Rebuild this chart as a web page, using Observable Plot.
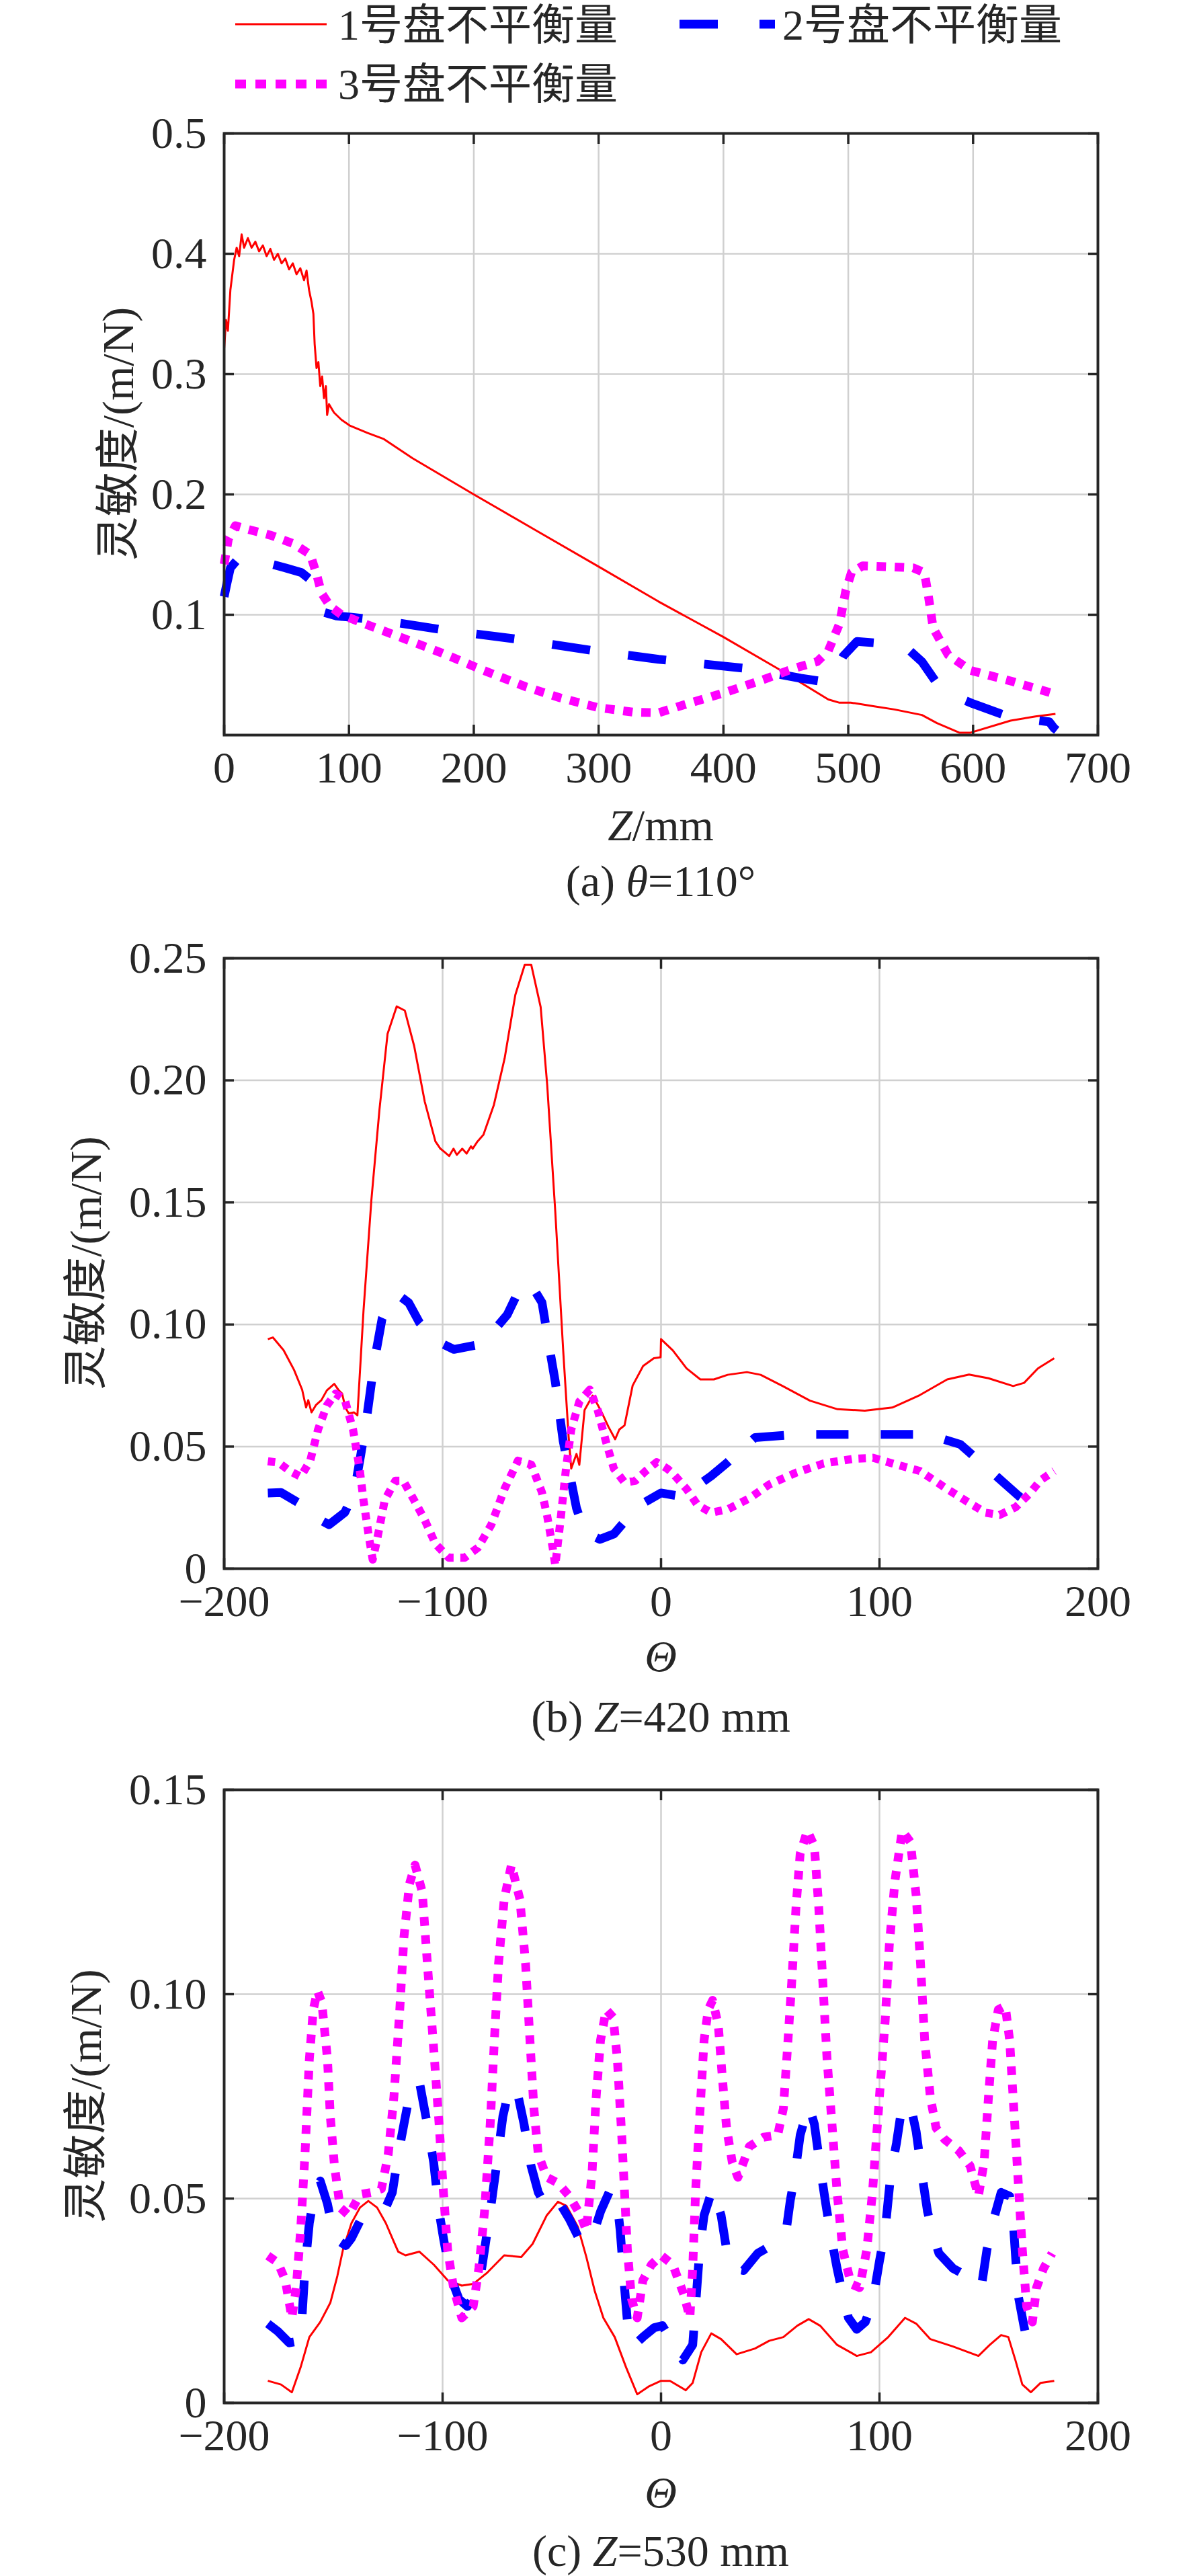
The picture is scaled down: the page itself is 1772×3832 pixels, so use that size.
<!DOCTYPE html>
<html><head><meta charset="utf-8">
<script src="https://cdn.jsdelivr.net/npm/d3@7"></script>
<script src="https://cdn.jsdelivr.net/npm/@observablehq/plot@0.6"></script>
<style>
body{margin:0;background:#fff;}
#root{position:relative;width:1772px;height:3832px;background:#fff;overflow:hidden;}
#root svg{position:absolute;left:0;}
</style></head><body><div id="root"></div>
<script>
const seriesNames = ["1号盘不平衡量","2号盘不平衡量","3号盘不平衡量"];
const seriesColors = ["#ff0000","#0000ff","#ff00ff"];

// ---- Panel (a): theta = 110 deg, x = Z/mm ----
const aRed = [[0,0.321],[1.5,0.345],[3,0.336],[5,0.37],[8,0.395],[10,0.405],[12,0.398],[14,0.416],[16,0.405],[19,0.413],[22,0.405],[25,0.41],[28,0.402],[31,0.407],[34,0.398],[37,0.404],[40,0.395],[43,0.4],[46,0.392],[49,0.396],[52,0.387],[55,0.392],[58,0.383],[61,0.388],[64,0.378],[66,0.386],[68,0.37],[70,0.36],[71.5,0.35],[72.5,0.325],[74,0.305],[75.5,0.31],[77,0.29],[78.5,0.298],[80,0.28],[81.5,0.29],[82.5,0.266],[84,0.275],[88,0.268],[94,0.262],[101,0.257],[115,0.251],[128,0.246],[151,0.23],[200,0.2],[250,0.17],[300,0.14],[348,0.111],[400,0.0815],[443,0.0556],[484,0.0296],[493,0.0269],[502,0.027],[520,0.024],[537,0.0213],[559,0.0167],[571,0.01],[589,0.002],[598,0.002],[630,0.012],[650,0.0155],[666,0.0176]];
const aBlue = [[0,0.115],[2,0.125],[5,0.139],[10,0.145],[17,0.146],[26,0.145],[38,0.142],[49,0.139],[62,0.135],[68,0.13],[72,0.122],[76,0.108],[80,0.102],[90,0.099],[101,0.098],[128,0.095],[174,0.0877],[235,0.0797],[297,0.07],[348,0.063],[416,0.0556],[432,0.053],[462,0.0472],[480,0.0444],[486,0.0463],[489,0.052],[496,0.0657],[507,0.0778],[530,0.076],[548,0.0713],[559,0.061],[575,0.037],[600,0.026],[630,0.0148],[661,0.011],[665,0.0056],[667,0.004]];
const aMag = [[0,0.142],[3.4,0.163],[9,0.174],[19,0.171],[37.5,0.166],[55.7,0.159],[69,0.15],[74,0.134],[78,0.118],[85,0.107],[94,0.1],[112.5,0.0925],[140,0.0818],[174,0.0684],[208,0.0537],[242,0.04],[269,0.031],[299,0.023],[328,0.019],[348,0.0185],[371,0.026],[400,0.035],[430,0.0454],[457,0.0556],[475,0.061],[484,0.07],[493,0.0926],[498,0.12],[502.5,0.135],[511.6,0.1407],[530,0.14],[552,0.139],[561,0.135],[564,0.117],[568,0.089],[580,0.0667],[598,0.0537],[632,0.0444],[668,0.0333]];
const aXTicks = [0,100,200,300,400,500,600,700];
const aYTicks = [0.1,0.2,0.3,0.4,0.5];

// ---- Panel (b): Z = 420 mm, x = Theta ----
const bRed = [[-180,0.094],[-177.7,0.0947],[-172.8,0.0895],[-168,0.0814],[-164.3,0.0733],[-162.5,0.066],[-161.5,0.069],[-160,0.064],[-158,0.067],[-155.5,0.069],[-153,0.073],[-149.6,0.0757],[-147.5,0.073],[-146,0.0717],[-144.5,0.066],[-143,0.0636],[-140.5,0.064],[-139,0.0628],[-136.2,0.1057],[-132.6,0.151],[-128.9,0.188],[-125.2,0.219],[-121,0.2303],[-117.3,0.2286],[-113,0.214],[-108.2,0.1914],[-103.3,0.175],[-101,0.172],[-99.6,0.171],[-97,0.169],[-95,0.172],[-93.5,0.1695],[-91,0.172],[-89,0.17],[-87,0.173],[-86.2,0.172],[-84,0.175],[-81.3,0.1777],[-76.5,0.19],[-71.6,0.209],[-66.7,0.235],[-62.4,0.2473],[-59.4,0.2473],[-55.1,0.23],[-52.1,0.198],[-48.4,0.146],[-44.8,0.0895],[-42.3,0.054],[-41.1,0.041],[-38.7,0.047],[-37.4,0.0425],[-35,0.065],[-31.3,0.0709],[-27.7,0.065],[-24,0.058],[-21,0.053],[-19.1,0.057],[-16.7,0.0587],[-13,0.075],[-8.2,0.083],[-3.3,0.0862],[-0.2,0.0866],[0,0.094],[5.4,0.0894],[11.7,0.082],[18,0.0775],[24.2,0.0775],[30.5,0.0794],[39.3,0.0805],[45.6,0.0794],[55.7,0.0748],[68.2,0.0688],[80.8,0.0653],[93.3,0.0647],[105.9,0.066],[118.5,0.0711],[131,0.0775],[141,0.0795],[149.9,0.078],[161.2,0.0748],[166.2,0.0761],[172.5,0.082],[180,0.0862]];
const bBlue = [[-180,0.031],[-174,0.0312],[-166,0.027],[-160,0.022],[-152,0.018],[-144.8,0.023],[-140.5,0.031],[-137.4,0.047],[-135,0.06],[-131.3,0.0846],[-127.7,0.1024],[-124,0.1097],[-119.8,0.1118],[-115.5,0.1089],[-110.6,0.1008],[-103.3,0.0935],[-94.8,0.0898],[-82.6,0.0919],[-76.5,0.0976],[-70.4,0.104],[-64.3,0.1154],[-59.4,0.1162],[-54.5,0.109],[-50.9,0.0895],[-48.4,0.0765],[-44.8,0.0523],[-42.3,0.041],[-38.7,0.0248],[-35,0.015],[-28,0.012],[-21.6,0.0142],[-10.6,0.0256],[0,0.031],[7.9,0.0298],[16,0.0335],[23,0.038],[30.5,0.0436],[43,0.0537],[62,0.055],[99.6,0.055],[122,0.055],[137,0.0509],[151,0.0399],[163.7,0.0298],[168,0.027]];
const bMag = [[-180,0.044],[-175,0.0434],[-170,0.04],[-165,0.0377],[-160.6,0.0442],[-157,0.057],[-153,0.0668],[-149,0.0717],[-144.8,0.0693],[-141,0.057],[-138,0.041],[-136.2,0.028],[-133.8,0.0134],[-132,0.0037],[-130,0.0118],[-126.5,0.028],[-121.6,0.036],[-118,0.036],[-113,0.028],[-108.2,0.02],[-103.3,0.0102],[-97.2,0.0045],[-89.9,0.0045],[-83.8,0.0086],[-77.7,0.018],[-71.6,0.0328],[-65.5,0.0442],[-59.4,0.0426],[-54.5,0.0312],[-52.1,0.0215],[-49.6,0.0086],[-48.4,0.0013],[-46,0.02],[-43.5,0.041],[-41.1,0.057],[-37.4,0.0684],[-32.6,0.0733],[-29,0.065],[-25.2,0.052],[-21.6,0.041],[-16.7,0.0353],[-11.8,0.036],[-7,0.04],[-2,0.0436],[2.8,0.041],[5.4,0.039],[11.7,0.0326],[16.7,0.0261],[23,0.0229],[30.5,0.0243],[40.6,0.0289],[49.4,0.0344],[62,0.0394],[74.5,0.0431],[88.3,0.045],[97,0.0454],[105.9,0.0431],[118.5,0.04],[131,0.0326],[141,0.027],[148.6,0.0229],[155,0.022],[162.4,0.0252],[168.7,0.0307],[173.7,0.0362],[180,0.04]];
const bXTicks = [-200,-100,0,100,200];
const bYTicks = [0,0.05,0.1,0.15,0.2,0.25];

// ---- Panel (c): Z = 530 mm, x = Theta ----
const cRed = [[-180,0.0054],[-174,0.0045],[-169,0.0026],[-165,0.0087],[-161,0.0161],[-156,0.0198],[-151.4,0.0245],[-148.2,0.031],[-145.6,0.0375],[-141.7,0.044],[-137.8,0.0478],[-134,0.0494],[-130,0.0478],[-126,0.044],[-122.3,0.0394],[-120.3,0.037],[-117,0.0361],[-110.6,0.037],[-104,0.0338],[-97.7,0.03],[-91.2,0.0287],[-86,0.0291],[-79.5,0.0319],[-71.8,0.0361],[-64,0.0357],[-58.8,0.0389],[-52.3,0.0459],[-47.2,0.0492],[-43.3,0.0482],[-38.1,0.0431],[-34.2,0.0357],[-30.3,0.0273],[-26.4,0.0208],[-21.2,0.0161],[-16,0.0087],[-10.9,0.0021],[-5.7,0.004],[0,0.0054],[4.1,0.0054],[11.3,0.0031],[14.5,0.0049],[18.4,0.0124],[23,0.017],[27.5,0.0156],[34.6,0.0119],[43,0.0133],[49.5,0.0152],[56,0.0161],[62.4,0.0189],[67.6,0.0205],[72.8,0.0189],[80.6,0.0142],[89.6,0.0115],[96.1,0.0124],[104,0.0161],[111.7,0.0208],[116.8,0.0194],[123.3,0.0156],[133.7,0.0138],[145.3,0.0115],[150.5,0.0142],[155.7,0.0166],[159,0.0161],[162.2,0.0105],[165.4,0.0045],[169.3,0.0026],[173.8,0.0049],[180,0.0054]];
const cBlue = [[-180,0.0194],[-175.4,0.0175],[-170.2,0.0147],[-165,0.0152],[-163,0.0329],[-161,0.044],[-158.5,0.0515],[-156,0.0543],[-152.7,0.0487],[-149.5,0.0403],[-144.3,0.0385],[-141.7,0.0403],[-136.5,0.0459],[-130,0.0468],[-126,0.0478],[-123,0.0515],[-120.3,0.0608],[-117.7,0.0682],[-114.5,0.0771],[-110.6,0.0785],[-106.7,0.0673],[-104.1,0.0589],[-101.6,0.0468],[-99.6,0.0403],[-96.4,0.031],[-92.5,0.0254],[-88.6,0.0236],[-83.4,0.0282],[-80.8,0.0375],[-78.2,0.0468],[-75.6,0.057],[-72.4,0.0701],[-69.2,0.0776],[-65.3,0.0748],[-62.7,0.0682],[-59.5,0.058],[-56.2,0.0515],[-52.3,0.0478],[-47.2,0.0496],[-42,0.045],[-36.8,0.0394],[-31.6,0.0403],[-27.7,0.0468],[-23.8,0.0515],[-20.6,0.0515],[-18.7,0.0422],[-16.7,0.0282],[-14.8,0.0161],[-12.2,0.0142],[-8.3,0.0161],[-3.1,0.0184],[0.6,0.0189],[5,0.015],[10,0.0105],[14.5,0.0142],[15.8,0.0236],[17.7,0.0375],[19.7,0.0459],[23.6,0.0524],[27.5,0.0459],[30,0.0375],[32.6,0.0329],[37.8,0.0324],[44.3,0.0366],[53.4,0.0394],[57.3,0.0422],[59.2,0.0496],[61.1,0.0552],[63.7,0.0655],[67.6,0.0729],[70.2,0.0682],[72.8,0.058],[75.4,0.0487],[78,0.0403],[80.6,0.0329],[82.5,0.0282],[85.8,0.0208],[89.6,0.018],[93.5,0.0198],[96.8,0.0245],[100,0.0347],[102.6,0.0422],[105.2,0.0561],[107.8,0.0636],[110.4,0.0729],[114.2,0.0729],[116.8,0.0664],[119.4,0.0561],[122,0.0468],[124.6,0.0412],[127.2,0.0366],[133.7,0.0329],[140.2,0.031],[146.6,0.0282],[149.2,0.0375],[151.8,0.044],[155.7,0.0515],[159.6,0.0506],[161.5,0.0422],[163.5,0.0263],[166.1,0.0189],[168.7,0.0124],[171.3,0.0133]];
const cMag = [[-180,0.036],[-175.4,0.0343],[-172,0.03],[-169,0.0208],[-167,0.0282],[-165,0.0422],[-163,0.0608],[-161,0.0841],[-159.2,0.0962],[-157.3,0.1008],[-155.3,0.098],[-152.7,0.0841],[-151.4,0.0701],[-149.5,0.058],[-146.9,0.0478],[-143,0.0459],[-137.8,0.051],[-132.6,0.0515],[-128,0.0524],[-124.9,0.0608],[-122.3,0.0748],[-119.7,0.0953],[-117.7,0.1139],[-115.2,0.1269],[-112.6,0.1316],[-109.3,0.125],[-106.7,0.1055],[-104.1,0.0869],[-101.6,0.0682],[-99.6,0.0515],[-97.7,0.0375],[-95,0.0282],[-91.2,0.0208],[-86,0.0236],[-83.4,0.0329],[-80.8,0.0468],[-78.2,0.0682],[-76.3,0.0887],[-74.4,0.1074],[-71.8,0.1232],[-68.5,0.1316],[-64.6,0.1232],[-62,0.1074],[-60,0.0887],[-58.2,0.072],[-56.2,0.0608],[-52.3,0.0552],[-47.2,0.0538],[-42,0.0506],[-36.8,0.0459],[-34.2,0.0422],[-31.6,0.0561],[-29.7,0.0748],[-27.7,0.0887],[-25.1,0.0962],[-21.9,0.0943],[-20,0.0841],[-18,0.0655],[-16.7,0.0515],[-15.4,0.0375],[-13.5,0.0254],[-10.9,0.0208],[-8.3,0.03],[-4.4,0.0338],[0,0.0361],[5.4,0.0338],[10.6,0.0263],[13.2,0.0208],[14.5,0.0329],[15.8,0.0515],[17.7,0.0701],[19.7,0.0887],[21.6,0.0962],[23.6,0.0985],[26.2,0.0925],[28.1,0.0794],[30,0.0673],[32.6,0.0589],[35.2,0.0552],[40.4,0.0627],[46.9,0.065],[53.4,0.0655],[56,0.072],[57.9,0.0869],[59.8,0.1027],[61.8,0.1213],[63.7,0.1344],[67,0.14],[70.2,0.1362],[72.2,0.1213],[74.1,0.1027],[76,0.0841],[78,0.0701],[80.6,0.0515],[83.2,0.0375],[87,0.0291],[90.9,0.0282],[94.2,0.0375],[96.8,0.0515],[98.7,0.0655],[100.6,0.0794],[102.6,0.0934],[104.5,0.112],[107.1,0.1278],[110.4,0.14],[114.2,0.1372],[116.8,0.1241],[118.8,0.1074],[120.7,0.0887],[123.3,0.0748],[125.9,0.0673],[129.8,0.0645],[136.3,0.0617],[141.5,0.058],[145.3,0.0506],[147.9,0.0589],[149.9,0.0748],[151.8,0.0887],[154.4,0.0962],[157.6,0.0971],[159.6,0.0887],[161.5,0.072],[163.5,0.0543],[165.4,0.0375],[167.4,0.0236],[170,0.0198],[171.9,0.0282],[175.1,0.0329],[179,0.0366]];
const cXTicks = [-200,-100,0,100,200];
const cYTicks = [0,0.05,0.1,0.15];

const root = document.getElementById("root");
const FONT = "'Liberation Serif','Times New Roman','Noto Sans CJK SC',serif";
const INK = "#262626";
const FS = 66;
const L = 333, R = 1633, W = 1772;

function minusFmt(d){ return d < 0 ? "\u2212" + Math.abs(d) : String(d); }

function panel(o){
  const mt = 60, mb = 110;
  const h = o.bottom - o.top + mt + mb;
  const gridStyle = {stroke:"#d0d0d0", strokeOpacity:1, strokeWidth:2.5};
  const marks = [
    Plot.gridX(o.xTicks, gridStyle),
    Plot.gridY(o.yTicks, gridStyle)
  ];
  o.series.forEach(s => marks.push(Plot.line(s.data, {
    x: d => d[0], y: d => d[1], stroke: s.color, strokeWidth: s.w,
    strokeDasharray: s.dash, strokeLinecap: "butt", strokeLinejoin: "round"
  })));
  marks.push(Plot.frame({stroke: INK, strokeWidth: 4}));
  const tk = {tickFormat: () => "", label: null, stroke: INK, strokeWidth: 3.5};
  marks.push(Plot.axisX(o.xTicks, {...tk, anchor: "bottom", tickSize: 15, dy: -15}));
  marks.push(Plot.axisX(o.xTicks, {...tk, anchor: "top", tickSize: 15, dy: 15}));
  marks.push(Plot.axisY(o.yTicks, {...tk, anchor: "left", tickSize: 15, dx: 15}));
  marks.push(Plot.axisY(o.yTicks, {...tk, anchor: "right", tickSize: 15, dx: -15}));
  marks.push(Plot.axisX(o.xTicks, {anchor: "bottom", tickSize: 0, tickPadding: 24, tickFormat: o.xFmt, label: null, fontSize: FS, fill: INK}));
  marks.push(Plot.axisY(o.yLabelTicks, {anchor: "left", tickSize: 0, tickPadding: 26, tickFormat: o.yFmt, label: null, fontSize: FS, fill: INK}));
  const svg = Plot.plot({
    width: W, height: h,
    marginLeft: L, marginRight: W - R, marginTop: mt, marginBottom: mb,
    x: {domain: o.xDomain},
    y: {domain: o.yDomain},
    style: {fontFamily: FONT, fontSize: FS + "px", color: INK, background: "transparent", overflow: "visible"},
    marks
  });
  svg.style.top = (o.top - mt) + "px";
  svg.style.maxWidth = "none";
  root.appendChild(svg);
}

panel({top:198, bottom:1093, xDomain:[0,700], yDomain:[0,0.5], xTicks:aXTicks, yTicks:aYTicks, yLabelTicks:aYTicks,
  xFmt: minusFmt, yFmt: d => d.toFixed(1),
  series:[
    {data:aRed, color:seriesColors[0], w:3},
    {data:aBlue, color:seriesColors[1], w:13, dash:"57,57"},
    {data:aMag, color:seriesColors[2], w:13, dash:"14,13"}
  ]});
panel({top:1425, bottom:2333, xDomain:[-200,200], yDomain:[0,0.25], xTicks:bXTicks, yTicks:bYTicks, yLabelTicks:bYTicks,
  xFmt: minusFmt, yFmt: d => d === 0 ? "0" : d.toFixed(2),
  series:[
    {data:bRed, color:seriesColors[0], w:3},
    {data:bBlue, color:seriesColors[1], w:13, dash:"48,48"},
    {data:bMag, color:seriesColors[2], w:12, dash:"11,10"}
  ]});
panel({top:2662, bottom:3574, xDomain:[-200,200], yDomain:[0,0.15], xTicks:cXTicks, yTicks:cYTicks, yLabelTicks:cYTicks,
  xFmt: minusFmt, yFmt: d => d === 0 ? "0" : d.toFixed(2),
  series:[
    {data:cRed, color:seriesColors[0], w:3},
    {data:cBlue, color:seriesColors[1], w:13, dash:"50,50"},
    {data:cMag, color:seriesColors[2], w:13, dash:"13,14"}
  ]});

// ---- overlay: legend, axis labels, captions ----
const ov = d3.select(root).append("svg")
  .attr("width", W).attr("height", 3832)
  .style("top", "0px").style("pointer-events", "none")
  .style("font-family", FONT).style("fill", INK);

// legend
const leg = [
  {x1:350, x2:486, y:36, tx:503, ty:59, dash:null, w:3},
  {x1:1011, x2:1153, y:36, tx:1164, ty:59, dash:"57,62", w:13},
  {x1:350, x2:486, y:125, tx:503, ty:147, dash:"16,14", w:13}
];
leg.forEach((g, i) => {
  ov.append("line").attr("x1", g.x1).attr("x2", g.x2).attr("y1", g.y).attr("y2", g.y)
    .attr("stroke", seriesColors[i]).attr("stroke-width", g.w)
    .attr("stroke-dasharray", g.dash).attr("stroke-linecap", "butt");
  ov.append("text").attr("x", g.tx).attr("y", g.ty).attr("font-size", 64).text(seriesNames[i]);
});

// y-axis labels
[[175, 645.5], [127, 1879], [127, 3118]].forEach(([x, y]) => {
  ov.append("text").attr("transform", `translate(${x},${y}) rotate(-90)`)
    .attr("text-anchor", "middle").attr("dominant-baseline", "central")
    .attr("font-size", FS).text("灵敏度/(m/N)");
});

// x-axis labels
function richText(x, y, parts){
  const t = ov.append("text").attr("x", x).attr("y", y).attr("text-anchor", "middle").attr("font-size", FS);
  parts.forEach(([s, it]) => t.append("tspan").attr("font-style", it ? "italic" : "normal").text(s));
}
richText(983, 1250, [["Z", true], ["/mm", false]]);
richText(983, 2486, [["\u0398", true]]);
richText(983, 3730, [["\u0398", true]]);

// captions
richText(983, 1333, [["(a) ", false], ["\u03b8", true], ["=110\u00b0", false]]);
richText(983, 2576, [["(b) ", false], ["Z", true], ["=420 mm", false]]);
richText(983, 3817, [["(c) ", false], ["Z", true], ["=530 mm", false]]);
</script>
</body></html>
